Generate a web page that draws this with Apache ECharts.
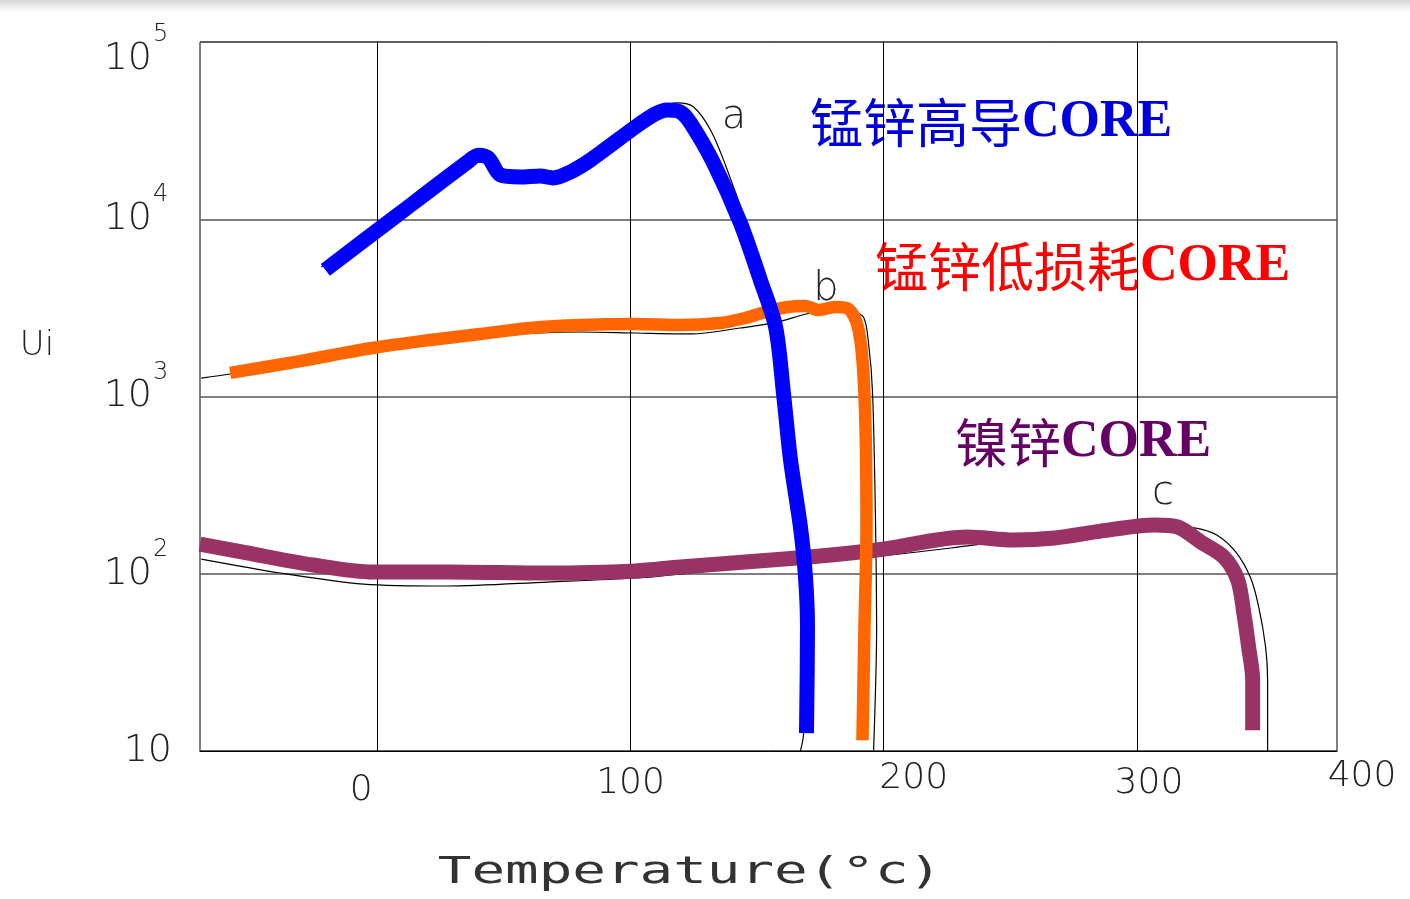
<!DOCTYPE html>
<html>
<head>
<meta charset="utf-8">
<title>Ui - Temperature</title>
<script src="https://cdn.jsdelivr.net/npm/echarts@6.0.0/dist/echarts.min.js"></script>
<style>
  html, body { margin: 0; padding: 0; background: #fff; }
  #chart { width: 1410px; height: 899px; }
</style>
</head>
<body>
<div id="chart"></div>
<script>
// 温度(°C) / Ui 读数
let xTicks = [0, 100, 200, 300];
let yTicks = [10, 100, 1000, 10000, 100000];

// a: 锰锌高导
let curveA = [[-20.5, 5180], [7.5, 10430], [35.6, 21000], [39.9, 23000], [43.9, 22170], [48.6, 17780],
    [56.5, 17300], [64.4, 17540], [69.5, 17100], [76.3, 18490], [84.2, 21590], [101.9, 33150],
    [109.8, 39260], [114.6, 41300], [119.7, 40270], [123.7, 34900], [132.8, 20760], [143.4, 9520],
    [151.3, 4540], [157.3, 2466], [160.4, 1047], [163.2, 438], [167.1, 184], [169.1, 96],
    [169.9, 50], [169.5, 12.6]];
// b: 锰锌低损耗
let curveB = [[-58.1, 1358], [-30.4, 1585], [-2.0, 1878], [20.9, 2083], [40.7, 2253], [60.5, 2434],
    [80.2, 2531], [101.9, 2566], [119.7, 2531], [135.5, 2600], [145.4, 2773], [153.3, 2998],
    [162.0, 3199], [169.1, 3243], [174.2, 3076], [181.0, 3199], [186.1, 3118], [189.6, 2531],
    [191.6, 1607], [192.8, 673], [193.2, 184], [192.4, 50], [191.6, 11.5]];
// c: 镍锌
let curveC = [[-70, 147], [-51.4, 131], [-25.3, 112], [-1.6, 102.3], [27.7, 102.3], [67.2, 100.9],
    [101.9, 103.7], [119.7, 109.2], [165.9, 122.7], [197.2, 136.2], [233.1, 161.2], [251.3, 155],
    [267.5, 159.2], [285.7, 174], [307.0, 188.4], [316.1, 183.6], [325.2, 151], [334.3, 124.3],
    [339.8, 92.2], [342.2, 60.1], [344.1, 38.6], [345.7, 25.2], [345.7, 13.1]];

// 原图上的细黑线(原始曲线)
let traceA = [[-22.1, 5380], [35.6, 21300], [39.9, 23350], [48.6, 18240], [69.5, 17540], [84.2, 22170],
    [101.9, 34000], [111.8, 42440], [118.5, 45290], [124.9, 42990], [131.6, 31900], [137.5, 20230],
    [145.4, 9650], [152.1, 4540], [157.6, 2466], [160.8, 1047], [164.0, 438], [167.5, 184],
    [169.1, 96], [169.5, 50], [168.3, 12.3], [167.1, 10]];
let traceB = [[-69.5, 1271], [-58.1, 1340], [-2.0, 1829], [40.7, 2167], [80.2, 2312], [101.9, 2281],
    [123.7, 2253], [143.4, 2434], [156.5, 2600], [171.1, 2958], [181.0, 3076], [186.9, 3036],
    [192.0, 2810], [194.0, 2004], [195.6, 1047], [196.8, 184], [197.2, 50], [196.0, 10.1]];
let traceC = [[-69.5, 121], [-38.3, 101], [-5.5, 87.5], [27.7, 85.3], [67.2, 89.8], [101.9, 94.6],
    [127.6, 102.3], [167.1, 116.5], [198.7, 125.9], [233.1, 143.5], [251.3, 155], [285.7, 172],
    [307, 190], [323.2, 181], [331.5, 165.5], [339.0, 132.7], [344.9, 94.6], [348.1, 64.9],
    [350.8, 38.6], [351.6, 25.2], [351.6, 10]];

let plotFont = "'DejaVu Sans ExtraLight', 'DejaVu Sans', sans-serif";
let cnFont = "'Noto Sans CJK SC', sans-serif";
let enFont = "'Liberation Serif', 'Times New Roman', serif";
let plotStyle = { fontFamily: plotFont, fontWeight: 200, color: '#222' };

let thin = (data, z) => ({
    type: 'line', data, smooth: 0.3, symbol: 'none', silent: true, z,
    lineStyle: { color: '#000', width: 1.2 }
});
let thick = (data, color, width, z) => ({
    type: 'line', data, smooth: 0.3, symbol: 'none', silent: true, z,
    lineStyle: { color, width, cap: 'butt', join: 'round' }
});

let plotText = (text, x, y, size) => ({
    type: 'text', x, y, silent: true,
    style: {
        text, fill: '#222', font: `200 ${size}px ${plotFont}`,
        textAlign: 'center', textVerticalAlign: 'middle'
    }
});
let title = (cn, x, y, color) => ({
    type: 'text', x, y, silent: true,
    style: {
        text: `{cn|${cn}}{en|CORE}`,
        fill: color,
        textVerticalAlign: 'middle',
        rich: {
            cn: { fontFamily: cnFont, fontSize: 53, fill: color, lineHeight: 60 },
            en: { fontFamily: enFont, fontSize: 52, fontWeight: 'bold', fill: color, lineHeight: 60 }
        }
    }
});

// x 轴刻度文字在原图里位置略有偏移
let xLabelPad = { 0: [12, 32, 0, 0], 100: [5, 0, 0, 0], 200: [0, 0, 0, 60], 300: [5, 0, 0, 24] };
let xRich = {};
xTicks.forEach(t => { xRich['x' + t] = Object.assign({ fontSize: 36, padding: xLabelPad[t] }, plotStyle); });

let yAxisBase = {
    type: 'log', logBase: 10, min: yTicks[0], max: yTicks[yTicks.length - 1],
    axisTick: { show: false }
};

let option = {
    backgroundColor: '#fff',
    animation: false,
    grid: {
        left: 200, right: 73, top: 42, bottom: 148,
        show: true, borderColor: '#000', borderWidth: 1, backgroundColor: 'transparent'
    },
    xAxis: {
        type: 'value', min: -70, max: 379,
        axisLine: { show: true, onZero: false, lineStyle: { color: '#000', width: 1 } },
        axisTick: { show: false, customValues: xTicks },
        splitLine: { show: true, lineStyle: { color: '#000', width: 1 } },
        axisLabel: {
            customValues: xTicks, margin: 10,
            formatter: v => `{x${v}|${v}}`,
            rich: xRich
        }
    },
    yAxis: [
        Object.assign({}, yAxisBase, {
            axisLine: { show: true, lineStyle: { color: '#000', width: 1 } },
            splitLine: { show: true, lineStyle: { color: '#555', width: 1.5 } },
            axisLabel: {
                margin: 28,
                formatter: v => v === 10 ? '{q|10}' : (v === 100000 ? '{t|10}' : '{p|10}'),
                rich: {
                    q: Object.assign({ fontSize: 38 }, plotStyle),
                    p: Object.assign({ fontSize: 38, padding: [0, 20, 0, 0] }, plotStyle),
                    t: Object.assign({ fontSize: 38, padding: [34, 20, 0, 0] }, plotStyle)
                }
            }
        }),
        // 指数(上标)
        Object.assign({}, yAxisBase, {
            position: 'left',
            axisLine: { show: false },
            splitLine: { show: false },
            axisLabel: {
                margin: 47, align: 'left', padding: [0, 0, 48, 0],
                formatter: v => {
                    let e = Math.round(Math.log10(v));
                    if (e <= 1) return '';
                    return e === 5 ? `{t|${e}}` : `{p|${e}}`;
                },
                rich: {
                    p: Object.assign({ fontSize: 24 }, plotStyle),
                    t: Object.assign({ fontSize: 24, padding: [34, 0, 0, 0] }, plotStyle)
                }
            }
        })
    ],
    graphic: [
        {
            type: 'rect', shape: { x: 0, y: 0, width: 1410, height: 12 }, silent: true,
            style: { fill: new echarts.graphic.LinearGradient(0, 0, 0, 1, [
                { offset: 0, color: '#d6d6d6' }, { offset: 1, color: '#ffffff' }]) }
        },
        plotText('Ui', 37, 346, 34),
        plotText('400', 1362, 777, 36),
        plotText('a', 734, 118, 40),
        plotText('b', 826, 290, 40),
        plotText('c', 1163, 494, 40),
        {
            type: 'text', x: 690, y: 873, scaleX: 1.47, silent: true,
            style: {
                text: 'Temperature(°c)', fill: '#333',
                font: `200 38px 'DejaVu Sans Mono', monospace`,
                textAlign: 'center', textVerticalAlign: 'middle'
            }
        },
        title('锰锌高导', 810, 123, '#0000dd'),
        title('锰锌低损耗', 875, 267, '#ff0000'),
        title('镍锌', 955, 443, '#660066')
    ],
    series: [
        thin(traceC, 1),
        thin(traceB, 1),
        thin(traceA, 1),
        thick(curveC, '#993366', 15, 2),
        thick(curveB, '#ff6600', 12.5, 3),
        thick(curveA, '#0000ff', 15, 4)
    ]
};

let myChart = echarts.init(document.getElementById('chart'));
myChart.setOption(option);
</script>
</body>
</html>
